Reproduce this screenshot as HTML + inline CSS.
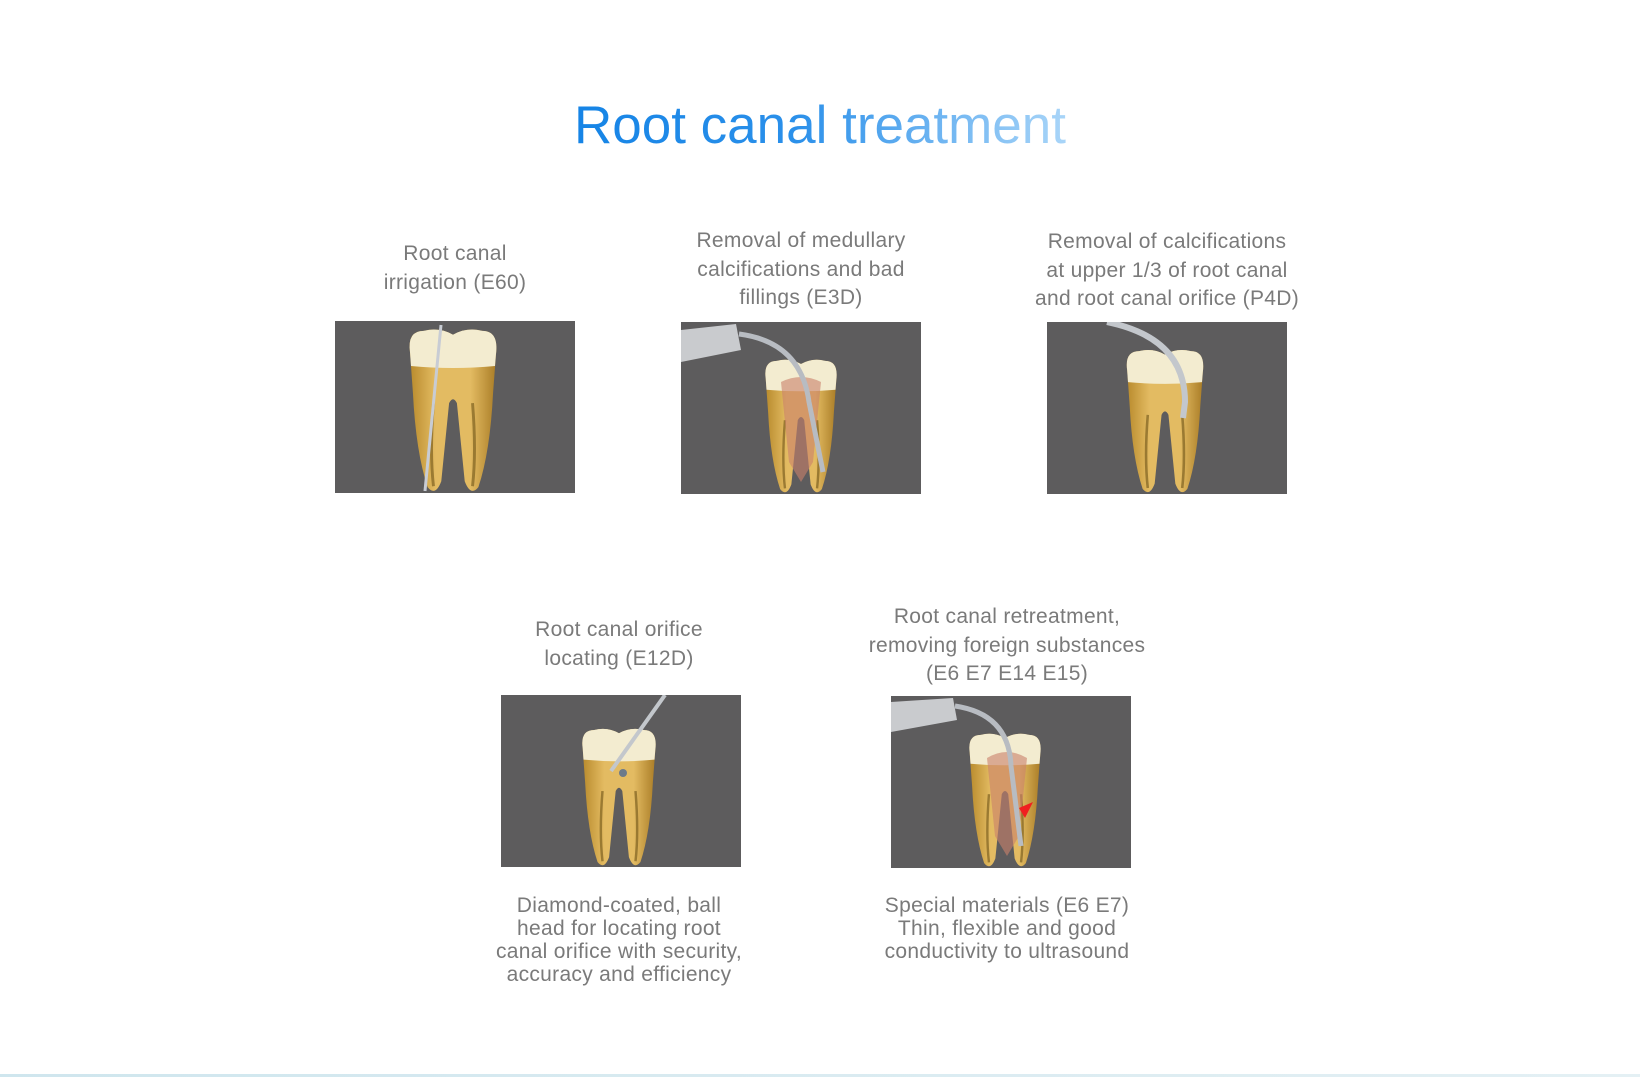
<!DOCTYPE html>
<html><head><meta charset="utf-8"><style>
html,body{margin:0;padding:0;background:#fff;}
body{width:1640px;height:1077px;position:relative;overflow:hidden;font-family:"Liberation Sans",sans-serif;}
.t{position:absolute;color:#7a7a7a;font-size:21px;line-height:28.5px;text-align:center;width:340px;letter-spacing:0.3px;}
.b{line-height:23px;}
h1{position:absolute;left:0;width:1640px;top:95px;margin:0;text-align:center;font-weight:normal;font-size:53px;}
h1 span{background:linear-gradient(90deg,#1584e6 0%,#2b90ea 45%,#a9d5f8 100%);-webkit-background-clip:text;background-clip:text;color:transparent;}
.box{position:absolute;width:240px;height:172px;background:#5d5c5d;overflow:hidden;}
.box svg{position:absolute;left:0;top:0;}
.line{position:absolute;left:0;top:1074px;width:1640px;height:3px;background:linear-gradient(90deg,#cfe6ee,#e4f0f4);}
</style></head><body>
<svg width="0" height="0" style="position:absolute">
<defs>
<linearGradient id="gd" x1="0" x2="1"><stop offset="0" stop-color="#b88a2c"/><stop offset=".3" stop-color="#e3bb62"/><stop offset=".7" stop-color="#e3bb62"/><stop offset="1" stop-color="#a97c26"/></linearGradient>
<symbol id="tooth" viewBox="-50 0 100 172" overflow="visible">
<path d="M-44,28 Q-47,6 -30,6 Q-14,2 0,10 Q14,2 30,6 Q47,6 44,30 L41,70 Q38,130 26,166 Q18,176 12,160 Q8,120 4,80 Q0,72 -4,80 Q-8,120 -12,160 Q-18,176 -26,166 Q-38,130 -41,70 Z" fill="url(#gd)"/>
<path d="M-44,28 Q-47,6 -30,6 Q-14,2 0,10 Q14,2 30,6 Q47,6 44,30 L43,42 Q0,46 -43,42 Z" fill="#f3ecd0"/>
<path d="M-20,80 Q-24,130 -20,165 M20,80 Q24,130 20,165" stroke="#6e5418" stroke-width="3" fill="none" opacity=".6"/>
</symbol>
</defs></svg>

<h1><span>Root canal treatment</span></h1>

<div class="t" style="left:285px;top:240px">Root canal<br>irrigation (E60)</div>
<div class="t" style="left:631px;top:227px">Removal of medullary<br>calcifications and bad<br>fillings (E3D)</div>
<div class="t" style="left:997px;top:228px">Removal of calcifications<br>at upper 1/3 of root canal<br>and root canal orifice (P4D)</div>
<div class="t" style="left:449px;top:616px">Root canal orifice<br>locating (E12D)</div>
<div class="t" style="left:837px;top:603px">Root canal retreatment,<br>removing foreign substances<br>(E6 E7 E14 E15)</div>
<div class="t b" style="left:449px;top:894px">Diamond-coated, ball<br>head for locating root<br>canal orifice with security,<br>accuracy and efficiency</div>
<div class="t b" style="left:837px;top:894px">Special materials (E6 E7)<br>Thin, flexible and good<br>conductivity to ultrasound</div>

<div class="box" style="left:335px;top:321px"><svg width="240" height="172">
<use href="#tooth" x="66" y="4" width="104" height="168"/>
<line x1="106" y1="4" x2="90" y2="170" stroke="#c8ccd4" stroke-width="3"/></svg></div>

<div class="box" style="left:681px;top:322px"><svg width="240" height="172">
<use href="#tooth" x="70" y="34" width="100" height="138"/>
<path d="M100,60 Q120,50 140,60 L132,140 L120,160 L108,140 Z" fill="#c9806a" opacity=".6"/>
<path d="M0,8 L55,2 L60,28 L0,40 Z" fill="#c9cbce"/>
<path d="M58,12 Q120,20 128,80 L142,150" stroke="#b8bcc2" stroke-width="5" fill="none"/></svg></div>

<div class="box" style="left:1047px;top:322px"><svg width="240" height="172">
<use href="#tooth" x="70" y="24" width="96" height="148"/>
<path d="M60,0 Q138,16 138,80 L136,96" stroke="#c3c7cc" stroke-width="6" fill="none"/></svg></div>

<div class="box" style="left:501px;top:695px"><svg width="240" height="172">
<use href="#tooth" x="70" y="30" width="96" height="142"/>
<line x1="164" y1="0" x2="110" y2="76" stroke="#c3c7cc" stroke-width="4"/>
<circle cx="122" cy="78" r="4" fill="#6c7a8a"/></svg></div>

<div class="box" style="left:891px;top:696px"><svg width="240" height="172">
<use href="#tooth" x="64" y="34" width="100" height="138"/>
<path d="M96,62 Q116,50 136,62 L128,140 L116,160 L104,140 Z" fill="#c9806a" opacity=".6"/>
<path d="M0,6 L62,2 L66,24 L0,36 Z" fill="#c9cbce"/>
<path d="M64,10 Q118,18 120,70 L130,150" stroke="#b8bcc2" stroke-width="5" fill="none"/>
<path d="M128,112 L142,106 L134,122 Z" fill="#f02020"/></svg></div>

<div class="line"></div>
</body></html>
